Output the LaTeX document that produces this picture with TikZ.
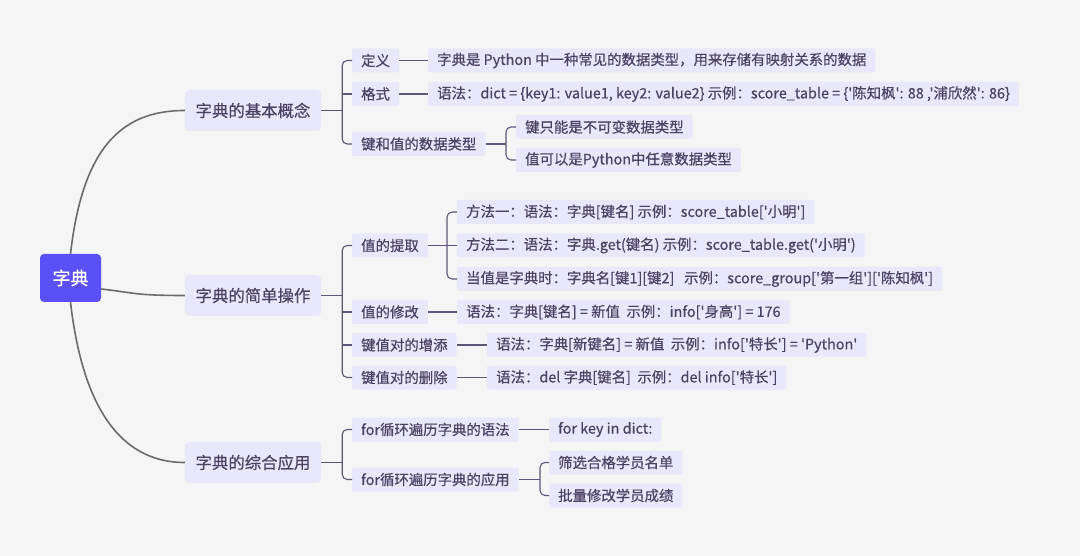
\documentclass[tikz,border=0pt]{standalone}
\usepackage{fontspec}
\newfontfamily\cjk{Noto Sans CJK SC}[FakeBold=0.5]
\usetikzlibrary{calc}
\definecolor{bgc}{HTML}{F5F5F5}
\definecolor{boxc}{HTML}{E9E8FB}
\definecolor{txtc}{HTML}{4B4264}
\definecolor{brc}{HTML}{5F5577}
\definecolor{rlc}{HTML}{6B6B6B}
\definecolor{rootc}{HTML}{5B50F6}
\begin{document}
\begin{tikzpicture}[x=1pt,y=-1pt,font=\cjk,
  l2/.style={fill=boxc,text=txtc,font=\cjk\fontsize{14.4}{16}\selectfont,inner xsep=9pt,inner ysep=0pt,minimum height=24pt,anchor=west,rounded corners=1.5pt},
  l1/.style={fill=boxc,text=txtc,font=\cjk\fontsize{16.4}{19}\selectfont,minimum width=136pt,minimum height=41pt,inner xsep=0pt,rounded corners=4pt},
  rootn/.style={fill=rootc,text=white,font=\cjk\fontsize{18}{20}\selectfont,minimum width=61pt,minimum height=48pt,inner xsep=0pt,rounded corners=4pt},
  br/.style={draw=brc,line width=1.1pt},
  brr/.style={draw=brc,line width=1.1pt,rounded corners=5pt},
  rl/.style={draw=rlc,line width=1.6pt}]
\useasboundingbox[fill=bgc] (0,0) rectangle (1080,556);

% root and level 1
\node[rootn] (root) at (70.5,278) {字典};
\node[l1] (k1) at (253,110.5) {字典的基本概念};
\node[l1] (k2) at (253,295.5) {字典的简单操作};
\node[l1] (k3) at (253,462.5) {字典的综合应用};

% group 1
\node[l2] (d1) at (352,60.5) {定义};
\node[l2] (e1) at (428,60.5) {字典是 Python 中一种常见的数据类型，用来存储有映射关系的数据};
\node[l2] (d2) at (352,94) {格式};
\node[l2] (e2) at (428,94) {语法：dict = \{key1: value1, key2: value2\} 示例：score\_table = \{'陈知枫': 88 ,'浦欣然': 86\}};
\node[l2] (d3) at (352,144) {键和值的数据类型};
\node[l2] (f1) at (516,127) {键只能是不可变数据类型};
\node[l2] (f2) at (516,160) {值可以是Python中任意数据类型};

% group 2
\node[l2] (g1) at (352,245.5) {值的提取};
\node[l2] (h1) at (457,212) {方法一：语法：字典[键名] 示例：score\_table['小明']};
\node[l2] (h2) at (457,245.5) {方法二：语法：字典.get(键名) 示例：score\_table.get('小明')};
\node[l2] (h3) at (457,279) {当值是字典时：字典名[键1][键2]\ \ \ 示例：score\_group['第一组']['陈知枫']};
\node[l2] (g2) at (352,312) {值的修改};
\node[l2] (h4) at (457,312) {语法：字典[键名] = 新值\ \ 示例：info['身高'] = 176};
\node[l2] (g3) at (352,345) {键值对的增添};
\node[l2] (h5) at (487,345) {语法：字典[新键名] = 新值\ \ 示例：info['特长'] = 'Python'};
\node[l2] (g4) at (352,377.5) {键值对的删除};
\node[l2] (h6) at (487,377.5) {语法：del 字典[键名]\ \ 示例：del info['特长']};

% group 3
\node[l2] (m1) at (352,429.5) {for循环遍历字典的语法};
\node[l2] (n1) at (549,429.5) {for key in dict:};
\node[l2] (m2) at (352,479.5) {for循环遍历字典的应用};
\node[l2] (n2) at (549,462.5) {筛选合格学员名单};
\node[l2] (n3) at (549,495.5) {批量修改学员成绩};

% root curves
\draw[rl] (root.north) .. controls +(12,-104) and +(-65,0) .. (k1.west);
\draw[rl] ([yshift=-11pt]root.east) .. controls +(35,4) and +(-50,0) .. (k2.west);
\draw[rl] (root.south) .. controls +(12,104) and +(-65,0) .. (k3.west);

% group 1 brackets
\coordinate (b1) at ($(k1.east)+(21,0)$);
\draw[br] (k1.east) -- (b1);
\draw[brr] (d1.west) -| (b1) |- (d3.west);
\draw[br] (b1 |- d2.west) -- (d2.west);
\draw[br] (d1.east) -- (e1.west);
\draw[br] (d2.east) -- (e2.west);
\coordinate (cf) at ($(f1.west |- d3.east)+(-10,0)$);
\draw[br] (d3.east) -- (cf);
\draw[brr] (f1.west) -| (cf) |- (f2.west);

% group 2 brackets
\coordinate (b2) at ($(k2.east)+(21,0)$);
\draw[br] (k2.east) -- (b2);
\draw[brr] (g1.west) -| (b2) |- (g4.west);
\draw[br] (b2 |- g2.west) -- (g2.west);
\draw[br] (b2 |- g3.west) -- (g3.west);
\coordinate (cg) at ($(h2.west)+(-10,0)$);
\draw[br] (g1.east) -- (h2.west);
\draw[brr] (h1.west) -| (cg) |- (h3.west);
\draw[br] (g2.east) -- (h4.west);
\draw[br] (g3.east) -- (h5.west);
\draw[br] (g4.east) -- (h6.west);

% group 3 brackets
\coordinate (b3) at ($(k3.east)+(21,0)$);
\draw[br] (k3.east) -- (b3);
\draw[brr] (m1.west) -| (b3) |- (m2.west);
\draw[br] (m1.east) -- (n1.west);
\coordinate (cm) at ($(n2.west |- m2.east)+(-9,0)$);
\draw[br] (m2.east) -- (cm);
\draw[brr] (n2.west) -| (cm) |- (n3.west);
\end{tikzpicture}
\end{document}
